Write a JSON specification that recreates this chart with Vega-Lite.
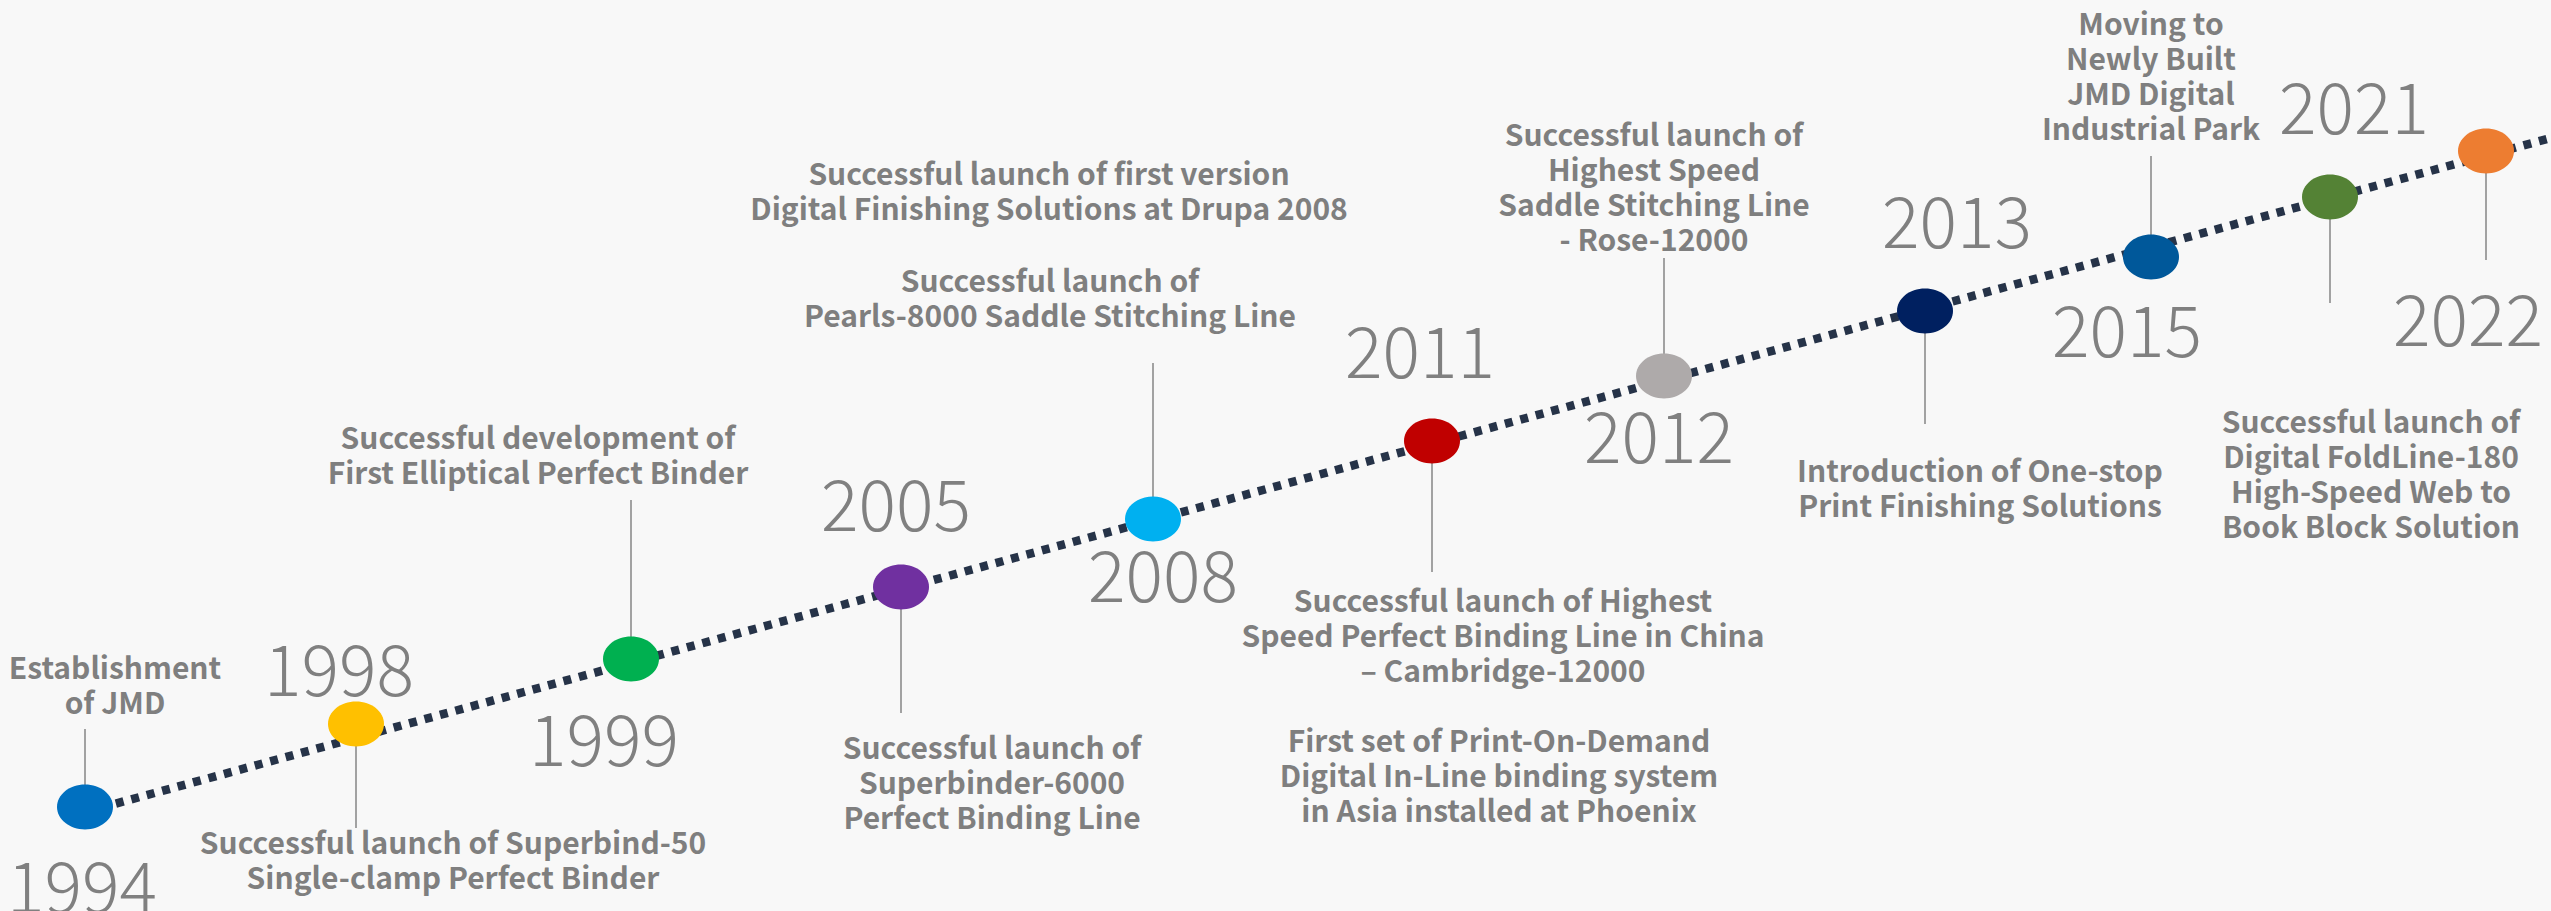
{
  "$schema": "https://vega.github.io/schema/vega-lite/v6.json",
  "width": 2551,
  "height": 911,
  "autosize": {"type": "none"},
  "padding": 0,
  "background": "#F8F8F8",
  "config": {"view": {"stroke": null}},
  "datasets": {
    "path": [
      {"x": 85, "y": 812, "order": 1},
      {"x": 2547, "y": 139, "order": 2}
    ],
    "events": [
      {"year": "1994", "x": 85, "y": 807, "conn_end": 729, "label_x": 82, "label_y": 913},
      {"year": "1998", "x": 356, "y": 724, "conn_end": 828, "label_x": 339, "label_y": 696},
      {"year": "1999", "x": 631, "y": 659, "conn_end": 500, "label_x": 604, "label_y": 766},
      {"year": "2005", "x": 901, "y": 587, "conn_end": 713, "label_x": 896, "label_y": 531},
      {"year": "2008", "x": 1153, "y": 519, "conn_end": 363, "label_x": 1163, "label_y": 602},
      {"year": "2011", "x": 1432, "y": 441, "conn_end": 572, "label_x": 1420, "label_y": 378},
      {"year": "2012", "x": 1664, "y": 376, "conn_end": 258, "label_x": 1659, "label_y": 463},
      {"year": "2013", "x": 1925, "y": 311, "conn_end": 424, "label_x": 1957, "label_y": 248},
      {"year": "2015", "x": 2151, "y": 257, "conn_end": 156, "label_x": 2127, "label_y": 357},
      {"year": "2021", "x": 2330, "y": 197, "conn_end": 303, "label_x": 2354, "label_y": 134},
      {"year": "2022", "x": 2486, "y": 151, "conn_end": 260, "label_x": 2468, "label_y": 346}
    ],
    "notes": [
      {"year": "1994", "x": 115, "y": 670, "lines": ["Establishment", "of JMD"]},
      {"year": "1998", "x": 453, "y": 845, "lines": ["Successful launch of Superbind-50", "Single-clamp Perfect Binder"]},
      {"year": "1999", "x": 538, "y": 440, "lines": ["Successful development of", "First Elliptical Perfect Binder"]},
      {"year": "2005", "x": 992, "y": 750, "lines": ["Successful launch of", "Superbinder-6000", "Perfect Binding Line"]},
      {"year": "2008", "x": 1049, "y": 176, "lines": ["Successful launch of first version", "Digital Finishing Solutions at Drupa 2008"]},
      {"year": "2008", "x": 1050, "y": 283, "lines": ["Successful launch of", "Pearls-8000 Saddle Stitching Line"]},
      {"year": "2011", "x": 1503, "y": 603, "lines": ["Successful launch of Highest", "Speed Perfect Binding Line in China", "– Cambridge-12000"]},
      {"year": "2011", "x": 1499, "y": 743, "lines": ["First set of Print-On-Demand", "Digital In-Line binding system", "  in Asia installed at Phoenix"]},
      {"year": "2012", "x": 1654, "y": 137, "lines": ["Successful launch of", "Highest Speed", "Saddle Stitching Line", "- Rose-12000"]},
      {"year": "2013", "x": 1980, "y": 473, "lines": ["Introduction of One-stop", "Print Finishing Solutions"]},
      {"year": "2015", "x": 2151, "y": 26, "lines": ["Moving to", "Newly Built", "JMD Digital", "Industrial Park"]},
      {"year": "2022", "x": 2371, "y": 424, "lines": ["Successful launch of", "Digital FoldLine-180", "High-Speed Web to", "Book Block Solution"]}
    ]
  },
  "layer": [
    {
      "data": {"name": "path"},
      "mark": {"type": "line", "color": "#263348", "strokeWidth": 8.5, "strokeDash": [8, 8], "strokeCap": "butt"},
      "encoding": {
        "x": {"field": "x", "type": "quantitative", "scale": {"domain": [0, 2551], "nice": false, "zero": false}, "axis": null},
        "y": {"field": "y", "type": "quantitative", "scale": {"domain": [0, 911], "nice": false, "zero": false, "reverse": true}, "axis": null},
        "order": {"field": "order"}
      }
    },
    {
      "data": {"name": "events"},
      "mark": {"type": "rule", "color": "#8C8C8C", "strokeWidth": 1.6},
      "encoding": {
        "x": {"field": "x", "type": "quantitative", "scale": {"domain": [0, 2551], "nice": false, "zero": false}, "axis": null},
        "y": {"field": "y", "type": "quantitative", "scale": {"domain": [0, 911], "nice": false, "zero": false, "reverse": true}, "axis": null},
        "y2": {"field": "conn_end"}
      }
    },
    {
      "data": {"name": "events"},
      "mark": {"type": "point", "filled": true, "opacity": 1, "size": 3136, "shape": "M-1,0A1,0.8,0,1,1,1,0A1,0.8,0,1,1,-1,0Z"},
      "encoding": {
        "x": {"field": "x", "type": "quantitative", "scale": {"domain": [0, 2551], "nice": false, "zero": false}, "axis": null},
        "y": {"field": "y", "type": "quantitative", "scale": {"domain": [0, 911], "nice": false, "zero": false, "reverse": true}, "axis": null},
        "color": {
          "field": "year", "type": "nominal", "legend": null,
          "scale": {
            "domain": ["1994", "1998", "1999", "2005", "2008", "2011", "2012", "2013", "2015", "2021", "2022"],
            "range": ["#0070C0", "#FFC000", "#00B050", "#7030A0", "#00B0F0", "#C00000", "#AEAAAA", "#002060", "#00589A", "#548235", "#ED7D31"]
          }
        }
      }
    },
    {
      "data": {"name": "events"},
      "mark": {"type": "text", "font": "Noto Sans CJK SC", "fontSize": 70, "fontWeight": 300, "color": "#808080", "align": "center", "baseline": "alphabetic"},
      "encoding": {
        "x": {"field": "label_x", "type": "quantitative", "scale": {"domain": [0, 2551], "nice": false, "zero": false}, "axis": null},
        "y": {"field": "label_y", "type": "quantitative", "scale": {"domain": [0, 911], "nice": false, "zero": false, "reverse": true}, "axis": null},
        "text": {"field": "year"}
      }
    },
    {
      "data": {"name": "notes"},
      "mark": {"type": "text", "font": "Noto Sans CJK SC", "fontSize": 30, "fontWeight": "bold", "lineHeight": 35, "color": "#7F7F7F", "align": "center", "baseline": "middle"},
      "encoding": {
        "x": {"field": "x", "type": "quantitative", "scale": {"domain": [0, 2551], "nice": false, "zero": false}, "axis": null},
        "y": {"field": "y", "type": "quantitative", "scale": {"domain": [0, 911], "nice": false, "zero": false, "reverse": true}, "axis": null},
        "text": {"field": "lines"}
      }
    }
  ]
}
